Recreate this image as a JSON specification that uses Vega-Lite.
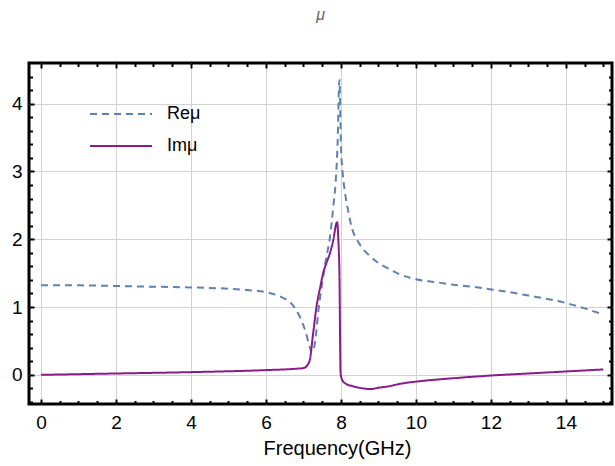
{
  "$schema": "https://vega.github.io/schema/vega-lite/v6.json",
  "width": 583,
  "height": 341,
  "autosize": {"type": "none"},
  "padding": {"left": 29, "top": 63, "right": 3, "bottom": 62},
  "background": "white",
  "title": {"text": "μ", "fontStyle": "italic", "fontWeight": "normal", "font": "Liberation Sans", "fontSize": 16, "color": "#666666", "anchor": "middle", "offset": 39},
  "config": {
    "view": {"stroke": "black", "strokeWidth": 3},
    "axis": {"labelFont": "Liberation Sans", "titleFont": "Liberation Sans", "labelColor": "black", "titleColor": "black", "domain": false, "gridColor": "#d2d2d2", "gridWidth": 1}
  },
  "datasets": {
    "mu": [
      {"f": 0, "v": 1.32, "s": "Reμ"}, {"f": 1, "v": 1.32, "s": "Reμ"}, {"f": 2, "v": 1.31, "s": "Reμ"}, {"f": 3, "v": 1.30, "s": "Reμ"}, {"f": 4, "v": 1.29, "s": "Reμ"}, {"f": 5, "v": 1.27, "s": "Reμ"}, {"f": 5.5, "v": 1.25, "s": "Reμ"}, {"f": 6.0, "v": 1.22, "s": "Reμ"}, {"f": 6.4, "v": 1.15, "s": "Reμ"}, {"f": 6.7, "v": 1.04, "s": "Reμ"}, {"f": 6.9, "v": 0.86, "s": "Reμ"}, {"f": 7.05, "v": 0.65, "s": "Reμ"}, {"f": 7.15, "v": 0.45, "s": "Reμ"}, {"f": 7.22, "v": 0.33, "s": "Reμ"}, {"f": 7.3, "v": 0.45, "s": "Reμ"}, {"f": 7.4, "v": 0.95, "s": "Reμ"}, {"f": 7.5, "v": 1.35, "s": "Reμ"}, {"f": 7.6, "v": 1.7, "s": "Reμ"}, {"f": 7.7, "v": 2.0, "s": "Reμ"}, {"f": 7.8, "v": 2.5, "s": "Reμ"}, {"f": 7.86, "v": 2.85, "s": "Reμ"}, {"f": 7.91, "v": 3.4, "s": "Reμ"}, {"f": 7.96, "v": 4.35, "s": "Reμ"}, {"f": 8.0, "v": 3.4, "s": "Reμ"}, {"f": 8.05, "v": 2.95, "s": "Reμ"}, {"f": 8.1, "v": 2.72, "s": "Reμ"}, {"f": 8.2, "v": 2.4, "s": "Reμ"}, {"f": 8.3, "v": 2.15, "s": "Reμ"}, {"f": 8.45, "v": 1.97, "s": "Reμ"}, {"f": 8.6, "v": 1.85, "s": "Reμ"}, {"f": 8.8, "v": 1.74, "s": "Reμ"}, {"f": 9.0, "v": 1.65, "s": "Reμ"}, {"f": 9.25, "v": 1.57, "s": "Reμ"}, {"f": 9.5, "v": 1.50, "s": "Reμ"}, {"f": 10, "v": 1.41, "s": "Reμ"}, {"f": 10.5, "v": 1.37, "s": "Reμ"}, {"f": 11, "v": 1.33, "s": "Reμ"}, {"f": 11.5, "v": 1.30, "s": "Reμ"}, {"f": 12, "v": 1.26, "s": "Reμ"}, {"f": 12.5, "v": 1.22, "s": "Reμ"}, {"f": 13, "v": 1.17, "s": "Reμ"}, {"f": 13.5, "v": 1.12, "s": "Reμ"}, {"f": 14, "v": 1.06, "s": "Reμ"}, {"f": 14.5, "v": 0.98, "s": "Reμ"}, {"f": 15, "v": 0.89, "s": "Reμ"},
      {"f": 0, "v": 0.0, "s": "Imμ"}, {"f": 2, "v": 0.02, "s": "Imμ"}, {"f": 4, "v": 0.04, "s": "Imμ"}, {"f": 6, "v": 0.07, "s": "Imμ"}, {"f": 6.8, "v": 0.09, "s": "Imμ"}, {"f": 7.0, "v": 0.10, "s": "Imμ"}, {"f": 7.1, "v": 0.14, "s": "Imμ"}, {"f": 7.17, "v": 0.22, "s": "Imμ"}, {"f": 7.26, "v": 0.62, "s": "Imμ"}, {"f": 7.35, "v": 1.01, "s": "Imμ"}, {"f": 7.45, "v": 1.30, "s": "Imμ"}, {"f": 7.53, "v": 1.51, "s": "Imμ"}, {"f": 7.62, "v": 1.66, "s": "Imμ"}, {"f": 7.71, "v": 1.80, "s": "Imμ"}, {"f": 7.8, "v": 2.0, "s": "Imμ"}, {"f": 7.88, "v": 2.24, "s": "Imμ"}, {"f": 7.9, "v": 2.25, "s": "Imμ"}, {"f": 7.93, "v": 2.0, "s": "Imμ"}, {"f": 7.96, "v": 1.5, "s": "Imμ"}, {"f": 7.99, "v": 0.03, "s": "Imμ"}, {"f": 8.03, "v": -0.07, "s": "Imμ"}, {"f": 8.1, "v": -0.12, "s": "Imμ"}, {"f": 8.33, "v": -0.17, "s": "Imμ"}, {"f": 8.6, "v": -0.20, "s": "Imμ"}, {"f": 8.8, "v": -0.21, "s": "Imμ"}, {"f": 9.0, "v": -0.19, "s": "Imμ"}, {"f": 9.26, "v": -0.17, "s": "Imμ"}, {"f": 9.6, "v": -0.13, "s": "Imμ"}, {"f": 10, "v": -0.10, "s": "Imμ"}, {"f": 11, "v": -0.05, "s": "Imμ"}, {"f": 12, "v": -0.01, "s": "Imμ"}, {"f": 13, "v": 0.02, "s": "Imμ"}, {"f": 14, "v": 0.05, "s": "Imμ"}, {"f": 15, "v": 0.08, "s": "Imμ"}
    ]
  },
  "data": {"name": "mu"},
  "layer": [
    {
      "mark": {"type": "line", "strokeWidth": 2, "interpolate": "monotone", "clip": true},
      "encoding": {
        "x": {"field": "f", "type": "quantitative", "scale": {"domain": [-0.32, 15.23], "nice": false, "zero": false},
          "axis": {"orient": "bottom", "title": "Frequency(GHz)", "titleFontSize": 20, "titleFontWeight": "normal", "titlePadding": 6, "titleX": 308, "labelFontSize": 19, "labelPadding": 14, "tickSize": -5, "tickColor": "black", "tickWidth": 2, "ticks": true,
            "values": [0, 0.5, 1, 1.5, 2, 2.5, 3, 3.5, 4, 4.5, 5, 5.5, 6, 6.5, 7, 7.5, 8, 8.5, 9, 9.5, 10, 10.5, 11, 11.5, 12, 12.5, 13, 13.5, 14, 14.5, 15],
            "labelExpr": "datum.value % 2 === 0 ? format(datum.value, 'd') : ''",
            "tickDash": {"condition": {"test": "datum.value % 2 === 0", "value": [6, 0]}, "value": [3.5, 10]},
            "gridOpacity": {"condition": {"test": "datum.value % 2 === 0", "value": 1}, "value": 0}}},
        "y": {"field": "v", "type": "quantitative", "scale": {"domain": [-0.43, 4.6], "nice": false, "zero": false},
          "axis": {"orient": "left", "title": null, "labelFontSize": 19, "labelPadding": 12, "tickSize": -5, "tickColor": "black", "tickWidth": 2, "ticks": true,
            "values": [-0.4, -0.2, 0, 0.2, 0.4, 0.6, 0.8, 1, 1.2, 1.4, 1.6, 1.8, 2, 2.2, 2.4, 2.6, 2.8, 3, 3.2, 3.4, 3.6, 3.8, 4, 4.2, 4.4],
            "labelExpr": "abs(datum.value - round(datum.value)) < 0.000001 ? format(datum.value, 'd') : ''",
            "tickDash": {"condition": {"test": "abs(datum.value - round(datum.value)) < 0.000001", "value": [6, 0]}, "value": [3.5, 10]},
            "gridOpacity": {"condition": {"test": "abs(datum.value - round(datum.value)) < 0.000001", "value": 1}, "value": 0}}},
        "color": {"field": "s", "type": "nominal", "scale": {"domain": ["Reμ", "Imμ"], "range": ["#5e81b5", "#8b1a8b"]},
          "legend": {"orient": "none", "legendX": 60, "legendY": 40, "title": null, "symbolType": "stroke", "symbolSize": 3844, "symbolStrokeWidth": 2, "labelFont": "Liberation Sans", "labelFontSize": 18, "labelColor": "black", "labelOffset": 14, "rowPadding": 10, "clipHeight": 22}},
        "strokeDash": {"field": "s", "type": "nominal", "scale": {"domain": ["Reμ", "Imμ"], "range": [[7, 5], [1, 0]]}, "legend": null}
      }
    },
    {
      "mark": {"type": "line", "opacity": 0},
      "encoding": {
        "x": {"field": "f", "type": "quantitative", "scale": {"domain": [-0.32, 15.23], "nice": false, "zero": false},
          "axis": {"orient": "top", "title": null, "labels": false, "grid": false, "tickSize": -5, "tickColor": "black", "tickWidth": 2, "ticks": true,
            "values": [0, 0.5, 1, 1.5, 2, 2.5, 3, 3.5, 4, 4.5, 5, 5.5, 6, 6.5, 7, 7.5, 8, 8.5, 9, 9.5, 10, 10.5, 11, 11.5, 12, 12.5, 13, 13.5, 14, 14.5, 15],
            "tickDash": {"condition": {"test": "datum.value % 2 === 0", "value": [6, 0]}, "value": [3.5, 10]}}},
        "y": {"field": "v", "type": "quantitative", "scale": {"domain": [-0.43, 4.6], "nice": false, "zero": false},
          "axis": {"orient": "right", "title": null, "labels": false, "grid": false, "tickSize": -5, "tickColor": "black", "tickWidth": 2, "ticks": true,
            "values": [-0.4, -0.2, 0, 0.2, 0.4, 0.6, 0.8, 1, 1.2, 1.4, 1.6, 1.8, 2, 2.2, 2.4, 2.6, 2.8, 3, 3.2, 3.4, 3.6, 3.8, 4, 4.2, 4.4],
            "tickDash": {"condition": {"test": "abs(datum.value - round(datum.value)) < 0.000001", "value": [6, 0]}, "value": [3.5, 10]}}},
        "detail": {"field": "s", "type": "nominal"}
      }
    }
  ],
  "resolve": {"axis": {"x": "independent", "y": "independent"}}
}
